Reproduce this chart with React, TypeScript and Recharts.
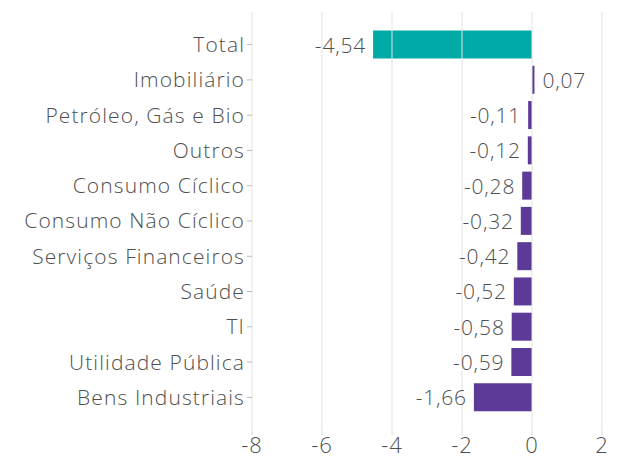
import { BarChart, Bar, XAxis, YAxis, Cell, LabelList, ReferenceLine } from 'recharts';

const sectors = [
  'Total',
  'Imobiliário',
  'Petróleo, Gás e Bio',
  'Outros',
  'Consumo Cíclico',
  'Consumo Não Cíclico',
  'Serviços Financeiros',
  'Saúde',
  'TI',
  'Utilidade Pública',
  'Bens Industriais',
];
const values = [-4.54, 0.07, -0.11, -0.12, -0.28, -0.32, -0.42, -0.52, -0.58, -0.59, -1.66];
const xTicks = [-8, -6, -4, -2, 0, 2];

const TEAL = '#00aaa6';
const PURPLE = '#5b3a98';
const TEXT = '#4f4f4f';
const FONT = '"Open Sans", Lato, sans-serif';

// page has an 8px body margin by default; drop it so the chart can use the full window
if (typeof document !== 'undefined') document.body.style.margin = '0';

const data = sectors.map((name, i) => ({ name, value: values[i] }));

const fmt = (v: number) => v.toFixed(2).replace('.', ',');

function ValueLabel(props: any) {
  const { x, y, width, height, value } = props;
  const neg = value < 0;
  const left = Math.min(x, x + width);
  const right = Math.max(x, x + width);
  return (
    <text
      x={neg ? left - 7 : right + 8}
      y={y + height / 2}
      textAnchor={neg ? 'end' : 'start'}
      dominantBaseline="central"
      fill={TEXT}
      fontSize={21}
      fontWeight={300}
      letterSpacing={0.8}
      fontFamily={FONT}
    >
      {fmt(value)}
    </text>
  );
}

export default function App() {
  return (
    <BarChart
      width={620}
      height={459}
      data={data}
      layout="vertical"
      margin={{ top: 12, right: 18, bottom: 4, left: 8 }}
      barCategoryGap="10%"
    >
      <XAxis
        type="number"
        domain={[-8, 2]}
        ticks={xTicks}
        axisLine={false}
        tickLine={{ stroke: '#d9d9d9' }}
        tickSize={5}
        height={25}
        tick={{ fill: TEXT, fontSize: 22, fontWeight: 300, fontFamily: FONT, letterSpacing: 1 }}
        tickFormatter={(v: number) => String(v)}
      />
      <YAxis
        type="category"
        dataKey="name"
        width={244}
        axisLine={false}
        tickLine={{ stroke: '#bbbbbb' }}
        tickSize={5}
        padding={{ top: 15, bottom: 15 }}
        interval={0}
        tick={{ fill: TEXT, fontSize: 21, fontWeight: 300, fontFamily: FONT, letterSpacing: 1.1 }}
      />
      <Bar dataKey="value" isAnimationActive={false}>
        {data.map((d) => (
          <Cell key={d.name} fill={d.name === 'Total' ? TEAL : PURPLE} />
        ))}
        <LabelList dataKey="value" content={ValueLabel} />
      </Bar>
      {xTicks.map((t) => (
        <ReferenceLine key={t} x={t} stroke="#e3e3e3" strokeWidth={1} />
      ))}
    </BarChart>
  );
}
